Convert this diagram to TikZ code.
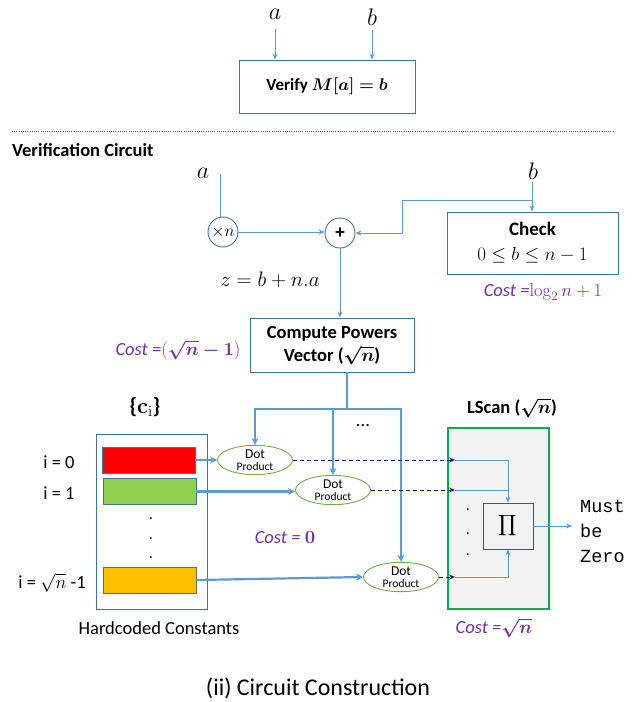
\RequirePackage{fix-cm}
\documentclass[tikz,border=0pt]{standalone}
\usepackage{amsmath}
\usepackage{bm}
\usepackage[no-math]{fontspec}
\setmainfont{Carlito}
\newfontfamily\monof{Liberation Mono}
\usetikzlibrary{arrows.meta,shapes.geometric}
\definecolor{lblue}{HTML}{5B9BD5}
\definecolor{bbord}{HTML}{41719C}
\definecolor{purp}{HTML}{7030A0}
\definecolor{navyc}{HTML}{002060}
\definecolor{egreen}{HTML}{70AD47}
\definecolor{gboxc}{HTML}{00B050}
\definecolor{lgray}{HTML}{F2F2F2}
\definecolor{pibord}{HTML}{44546A}
\newcommand\fsz[2]{\fontsize{#1}{#2}\selectfont}
\begin{document}
\begin{tikzpicture}[x=1pt,y=-1pt,
  mlab/.style={inner sep=1pt, font=\fsz{24}{28}},
  txt/.style={inner sep=1pt, font=\fsz{18.5}{22}},
  conn/.style={draw=lblue, line width=1pt, -{Stealth[length=6pt,width=5pt]}},
  plainc/.style={draw=lblue, line width=1pt},
  thinc/.style={draw=lblue, line width=0.8pt, -{Stealth[length=6pt,width=5pt]}},
  thinp/.style={draw=lblue, line width=0.8pt},
  bus/.style={draw=lblue, line width=2.2pt},
  busa/.style={draw=lblue, line width=2.2pt, -{Stealth[length=7pt,width=7pt]}},
  dashc/.style={draw=navyc, dashed, dash pattern=on 4pt off 3pt, line width=0.9pt, -{Stealth[length=6pt,width=5pt]}},
  rbox/.style={draw=bbord, line width=0.9pt, fill=white, inner sep=2pt, align=center},
  circ/.style={circle, draw=bbord, line width=0.9pt, fill=white, minimum size=30pt, inner sep=0pt},
  dotp/.style={ellipse, draw=egreen, line width=0.9pt, fill=white, minimum width=75pt, minimum height=28pt, inner sep=0pt, align=center},
  cost/.style={inner sep=1pt, text=purp, font=\fsz{18.5}{22}},
  crect/.style={draw=bbord, line width=0.9pt, minimum width=93pt, minimum height=26pt, inner sep=0pt},
  vdot/.style={inner sep=0pt, font=\fsz{16}{18}, anchor=base}
]
\useasboundingbox (0,0) rectangle (644,702);
% ---------- top ----------
\node[mlab] (ta) at (275,14) {$a$};
\node[mlab] (tb) at (372,17) {$b$};
\node[rbox, minimum width=176pt, minimum height=53pt, font=\fsz{17}{20}\bfseries] (verify) at (327,86.5) {Verify $\bm{M[a]=b}$};
\coordinate (tas) at (275,29);
\coordinate (tbs) at (372,30);
\draw[conn] (tas) -- (tas |- verify.north);
\draw[conn] (tbs) -- (tbs |- verify.north);
% dotted separator
\coordinate (dl) at (12,131);
\coordinate (dr) at (613,131);
\draw[gray!70!black, line width=0.8pt, dash pattern=on 1pt off 1.2pt] (dl) -- (dr);
\node[anchor=west, inner sep=0pt, font=\fsz{18.5}{22}\bfseries] (vc) at (12,150) {Verification Circuit};
% ---------- verification circuit ----------
\node[mlab] (ma) at (203,173) {$a$};
\node[mlab] (mb) at (533,171) {$b$};
\node[circ, font=\fsz{17}{20}] (xn) at (223,232) {$\times n$};
\node[circ, font=\fsz{19}{20}\bfseries] (plus) at (340,233) {+};
\node[rbox, minimum width=171pt, minimum height=62pt, font=\fsz{19}{25}] (check) at (532.5,243)
  {\textbf{Check}\\$0\le b\le n-1$};
\coordinate (mas) at (220,174);
\draw[plainc] (mas) -- (mas |- xn.north);
\draw[conn] (xn.east) -- (xn.east -| plus.west);
\coordinate (mbs) at (532,182);
\coordinate (bj) at (532,200);
\coordinate (bl) at (402,200);
\draw[conn] (mbs) -- (mbs |- check.north);
\draw[conn] (bj) -- (bl) -- (bl |- plus.east) -- (plus.east);
\node[inner sep=1pt, font=\fsz{21}{24}] (zlab) at (270,280) {$z=b+n.a$};
\node[cost] (cost1) at (543,292) {\textit{Cost =}$\log_2 n+1$};
% compute powers
\node[rbox, minimum width=164pt, minimum height=54pt, font=\fsz{18.5}{23}\bfseries] (comp) at (332,345)
  {Compute Powers\\Vector (\smash{$\bm{\sqrt{n}}$})};
\draw[conn] (plus.south) -- (plus.south |- comp.north);
\node[cost] (cost2) at (178,350) {\textit{Cost =}$(\bm{\sqrt{n}-1})$};
% dot products
\node[dotp] (dot1) at (255,460) {{\fsz{13.5}{14}Dot}\\{\fsz{11.5}{12}Product}};
\node[dotp] (dot2) at (333,490) {{\fsz{13.5}{14}Dot}\\{\fsz{11.5}{12}Product}};
\node[dotp] (dot3) at (401,577) {{\fsz{13.5}{14}Dot}\\{\fsz{11.5}{12}Product}};
\coordinate (cbs) at (347,372);
\coordinate (busj) at (347,409);
\draw[bus] (cbs) -- (busj);
\draw[busa] (busj) -| (dot1.north);
\draw[busa] (busj) -| (dot3.north);
\draw[busa] (dot2.north |- busj) -- (dot2.north);
\node[txt] (ell) at (363,426) {...};
\node[cost] (cost3) at (285,538) {\textit{Cost =} $\mathbf{0}$};
% constants
\node[inner sep=1pt, font=\fsz{22}{24}\bfseries] (ci) at (145,407) {\{$\mathbf{c}_{\mathrm{i}}$\}};
\node[draw=bbord, line width=0.9pt, minimum width=111pt, minimum height=175pt, inner sep=0pt] (hc) at (151.5,521.5) {};
\node[crect, fill=red] (r0) at (148.5,460) {};
\node[crect, fill={rgb,255:red,146;green,208;blue,80}] (r1) at (149.5,491.5) {};
\node[crect, fill={rgb,255:red,255;green,192;blue,0}] (r2) at (149.5,580) {};
\node[vdot] (v1) at (151,519) {.};
\node[vdot] (v2) at (151,539) {.};
\node[vdot] (v3) at (151,558) {.};
\node[txt] (l0) at (59,462) {i = 0};
\node[txt] (l1) at (59,493) {i = 1};
\node[txt] (l2) at (52,583) {i = $\sqrt{n}$ -1};
\node[txt] (hcl) at (159,628) {Hardcoded Constants};
\draw[busa] (r0.east) -- (dot1.west);
\draw[busa] (r1.east) -- (r1.east -| dot2.west);
\draw[busa] (r2.east) -- (dot3.west);
% LScan
\node[draw=gboxc, fill=lgray, line width=1.8pt, minimum width=101pt, minimum height=181pt, inner sep=0pt] (ls) at (498.5,518.5) {};
\node[inner sep=1pt, font=\fsz{18.5}{22}\bfseries] (lsl) at (512,408) {LScan ($\bm{\sqrt{n}}$)};
\node[draw=pibord, line width=0.8pt, fill=lgray, minimum width=50pt, minimum height=46pt, inner sep=0pt, font=\fsz{15}{18}] (pi) at (508,526) {$\displaystyle\prod$};
\coordinate (in1) at (455,460);
\coordinate (in2) at (455,490);
\coordinate (in3) at (455,577);
\draw[dashc] (dot1.east) -- (in1);
\draw[dashc] (dot2.east) -- (in2);
\draw[dashc] (dot3.east) -- (in3);
\draw[thinc] (in1) -| (pi.north);
\draw[thinp] (in2) -- (in2 -| pi.north);
\draw[thinc] (in3) -| (pi.south);
\node[vdot] (w1) at (468,510) {.};
\node[vdot] (w2) at (468,534) {.};
\node[vdot] (w3) at (468,555) {.};
\coordinate (outp) at (572,526);
\draw[thinc] (pi.east) -- (outp);
\node[anchor=west, inner sep=0pt, align=left, font=\monof\fsz{18.5}{25}] (mz) at (580,531) {Must\\be\\Zero};
\node[cost] (cost4) at (494,628) {\textit{Cost =}$\bm{\sqrt{n}}$};
% caption
\node[inner sep=1pt, font=\fsz{24}{28}] (cap) at (318,688) {(ii) Circuit Construction};
\end{tikzpicture}
\end{document}
